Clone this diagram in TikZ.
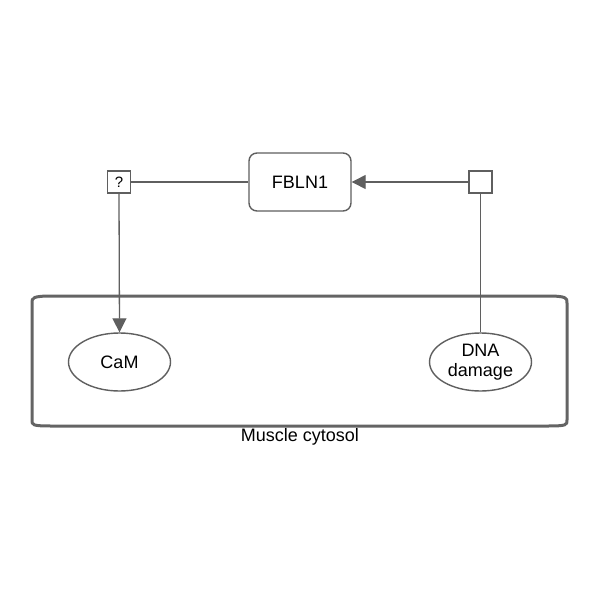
\documentclass[tikz,border=0pt]{standalone}
\usepackage{fontspec}
\setmainfont{Liberation Sans}
\usetikzlibrary{shapes.geometric,arrows.meta}
\definecolor{linegray}{RGB}{95,95,95}
\definecolor{compgray}{RGB}{100,100,100}
\begin{document}
\begin{tikzpicture}[x=1pt,y=-1pt,
  every node/.style={font=\fontsize{18}{19.5}\selectfont, text=black},
  entity/.style={draw=linegray, line width=1.4pt, fill=white, inner sep=0pt},
  geneprod/.style={entity, rectangle, rounded corners=8pt, minimum width=102pt, minimum height=58pt},
  metab/.style={entity, ellipse, minimum width=102pt, minimum height=58pt, align=center},
  anchorbox/.style={draw=linegray, line width=1.2pt, fill=white, rectangle, minimum width=23pt, minimum height=22pt, inner sep=0pt},
  conn/.style={draw=linegray, line width=1.3pt},
  arr/.style={conn, -{Triangle[length=14pt,width=14pt]}}
]
\fill[white] (0,0) rectangle (600,600);
\useasboundingbox (0,0) rectangle (600,600);
% compartment
\draw[compgray, line width=3pt]
  (52,296) -- (547,296) .. controls (567,296) and (567,298) .. (567,303)
  -- (567,420) .. controls (567,425) and (567,426) .. (547,426)
  -- (52,426) .. controls (32,426) and (32,425) .. (32,420)
  -- (32,303) .. controls (32,298) and (32,296) .. (52,296) -- cycle;
\node (comp) at (300,437) {Muscle cytosol};
% nodes
\node[geneprod] (fbln1) at (300,182) {FBLN1};
\node[anchorbox, font=\fontsize{15}{17}\selectfont] (q) at (119,182) {?};
\node[anchorbox] (sq) at (480.5,182) {};
\node[metab] (cam) at (119.5,362) {CaM};
\node[metab] (dna) at (480.5,362) {DNA\\damage};
% connectors
\draw[conn] (q.east) -- (fbln1.west);
\draw[arr] (sq.west) -- (fbln1.east);
\draw[arr] (q.south) -- (cam.north);
\draw[conn] (sq.south) -- (dna.north);
\end{tikzpicture}
\end{document}
